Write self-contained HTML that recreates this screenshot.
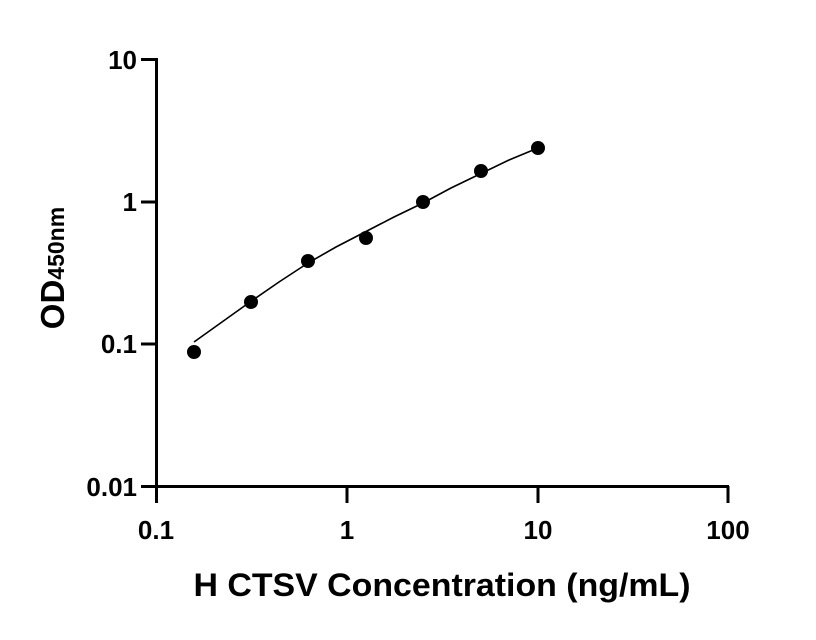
<!DOCTYPE html>
<html><head><meta charset="utf-8"><style>body{margin:0;background:#fff}svg{display:block}</style></head>
<body>
<svg width="816" height="640" xmlns="http://www.w3.org/2000/svg" font-family="Liberation Sans, Arial, sans-serif" font-weight="bold">
<g stroke="#000" stroke-width="3" fill="none">
<line x1="156.5" y1="58" x2="156.5" y2="503"/>
<line x1="155" y1="486.5" x2="729" y2="486.5"/>
<line x1="141" y1="59.5" x2="157" y2="59.5"/>
<line x1="141" y1="202" x2="157" y2="202"/>
<line x1="141" y1="344" x2="157" y2="344"/>
<line x1="141" y1="486.5" x2="157" y2="486.5"/>
<line x1="347" y1="486" x2="347" y2="503"/>
<line x1="538" y1="486" x2="538" y2="503"/>
<line x1="728" y1="486" x2="728" y2="503"/>
</g>
<polyline fill="none" stroke="#000" stroke-width="1.6" points="194,342 222,322 250,302 279,282 308,263 336,247 365,232 394,217 423,203 451,188 480,174 509,160 538,148"/>
<g fill="#000">
<circle cx="194" cy="352" r="7"/>
<circle cx="251" cy="302" r="7"/>
<circle cx="308" cy="261" r="7"/>
<circle cx="366" cy="238" r="7"/>
<circle cx="423" cy="202" r="7"/>
<circle cx="481" cy="171" r="7"/>
<circle cx="538" cy="148" r="7"/>
</g>
<g font-size="26" text-anchor="end">
<text x="137" y="69">10</text>
<text x="137" y="211">1</text>
<text x="137" y="353">0.1</text>
<text x="137" y="496">0.01</text>
</g>
<g font-size="26" text-anchor="middle">
<text x="156" y="539">0.1</text>
<text x="347" y="539">1</text>
<text x="538" y="539">10</text>
<text x="728" y="539">100</text>
</g>
<text x="442" y="596" font-size="32" text-anchor="middle" textLength="497" lengthAdjust="spacingAndGlyphs">H CTSV Concentration (ng/mL)</text>
<text transform="translate(64,268) rotate(-90)" font-size="33" text-anchor="middle">OD<tspan font-size="23">450nm</tspan></text>
</svg>
</body></html>
